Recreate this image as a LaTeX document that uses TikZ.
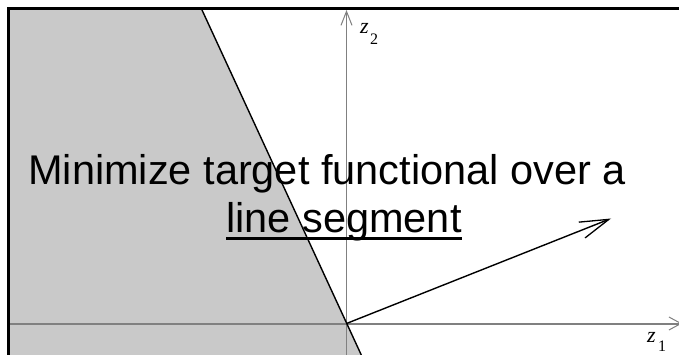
\documentclass[tikz,border=0pt]{standalone}
\usepackage{fontspec}
\setmainfont{Liberation Sans}
\newfontfamily\zfont{Liberation Serif}
\usetikzlibrary{arrows.meta}
\definecolor{regiongray}{RGB}{201,201,201}
\definecolor{axisgray}{RGB}{128,128,128}
\tikzset{
  boundary/.style={draw=black, line width=1.4pt},
  vecline/.style={draw=black, line width=1.4pt, -{Straight Barb[length=29pt,width=17pt,line width=1.3pt]}},
  bigtext/.style={font=\fontsize{41.5}{48}\selectfont, inner sep=0pt, anchor=base},
  zlabel/.style={font=\zfont\fontsize{22}{22}\selectfont, inner sep=0pt, anchor=base west},
  zsub/.style={font=\zfont\fontsize{16}{16}\selectfont, inner sep=0pt, anchor=base west}
}
\begin{document}
\begin{tikzpicture}[x=1pt,y=-1pt]
\useasboundingbox (0,0) rectangle (679,355);
\fill[white] (0,0) rectangle (679,355);
% named points
\coordinate (O) at (346.5,323.5);
\coordinate (T) at (202,10);
\coordinate (B) at (361.3,355);
\coordinate (xs) at (10,323.5);
\coordinate (xe) at (682,323.5);
\coordinate (ys) at (346.5,355);
\coordinate (ye) at (346.5,10);
\coordinate (V) at (611,218.5);
% shaded half-plane
\fill[regiongray] (10,10) -- (T) -- (B) -- (10,355) -- cycle;
% axes
\draw[axisgray, line width=2pt, -{Straight Barb[length=12pt,width=13pt,line width=1pt]}] (xs) -- (xe);
\draw[axisgray, line width=1pt, -{Straight Barb[length=14pt,width=11pt,line width=1pt]}] (ys) -- (ye);
% boundary line
\draw[boundary] (T) -- (B);
% vector
\draw[vecline] (O) -- (V);
% frame (top and left)
\draw[line width=3pt] (8.5,355) -- (8.5,8.5) -- (679,8.5);
% axis labels
\node[zlabel] (z2) at (360,34) {\textit{z}};
\node[zsub] (z2s) at (370,45) {2};
\node[zlabel] (z1) at (647,342) {\textit{z}};
\node[zsub] (z1s) at (658,351.5) {1};
% text
\node[bigtext] (l1) at (327,185) {Minimize target functional over a};
\node[bigtext] (l2) at (344,233) {line segment};
\draw[line width=2.5pt] ([yshift=-5.5pt]l2.base west) -- ([yshift=-5.5pt]l2.base east);
\end{tikzpicture}
\end{document}
